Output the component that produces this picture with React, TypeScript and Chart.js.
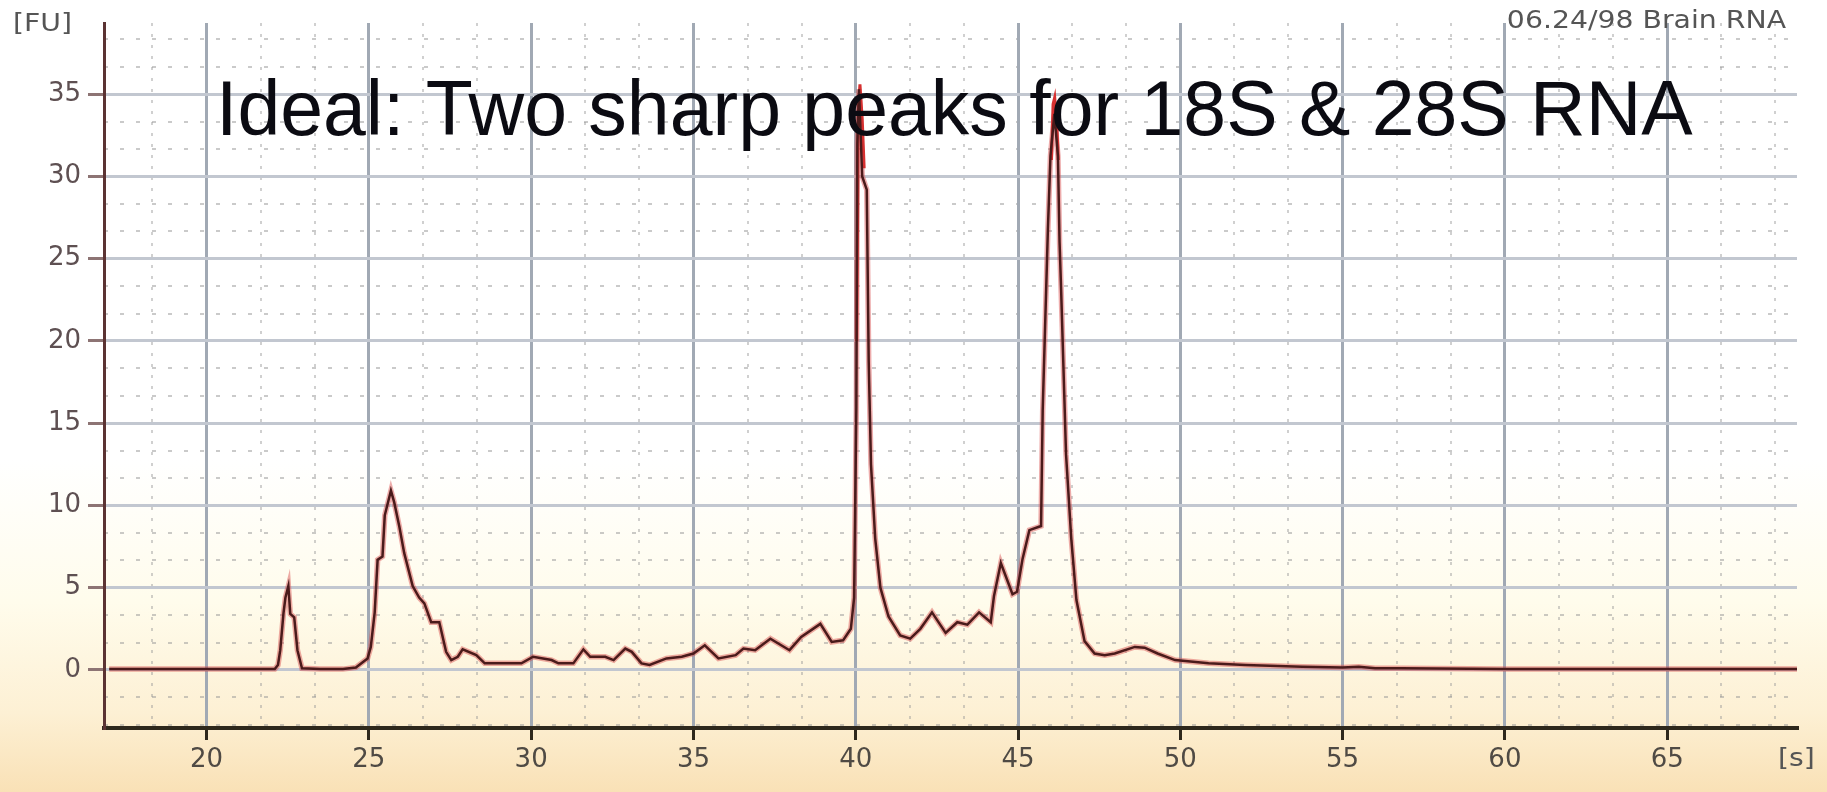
import React, { useEffect, useRef } from "react";
import { Chart, registerables } from "chart.js";

Chart.register(...registerables);

// ---- Data ----
const timeS = [
  17.0, 18.5, 20.0, 21.0, 22.1, 22.2, 22.27, 22.37, 22.43, 22.52, 22.58, 22.7, 22.8, 22.94,
  23.5, 24.2, 24.6, 24.96, 25.06, 25.18, 25.27, 25.42, 25.49, 25.68, 25.78, 25.94, 26.09,
  26.35, 26.55, 26.71, 26.92, 27.17, 27.38, 27.54, 27.74, 27.89, 28.31, 28.57, 29.7, 30.06,
  30.63, 30.84, 31.3, 31.61, 31.82, 32.28, 32.54, 32.9, 33.1, 33.4, 33.65, 34.17, 34.64,
  35.0, 35.35, 35.77, 36.3, 36.54, 36.9, 37.37, 37.96, 38.32, 38.91, 39.26, 39.61, 39.85,
  39.95, 40.02, 40.05, 40.1, 40.2, 40.34, 40.4, 40.47, 40.6, 40.76, 41.01, 41.37, 41.68,
  41.99, 42.35, 42.77, 43.13, 43.44, 43.8, 44.16, 44.26, 44.47, 44.83, 44.97, 45.14, 45.35,
  45.71, 45.76, 45.92, 46.0, 46.12, 46.23, 46.28, 46.33, 46.48, 46.64, 46.8, 47.05, 47.36,
  47.67, 47.98, 48.6, 48.9, 49.3, 49.84, 50.87, 52.0, 53.76, 55.0, 55.5, 56.0, 56.8, 60.0,
  65.0, 69.0,
];
const fluorescence = [
  0.05, 0.05, 0.05, 0.05, 0.05, 0.3, 1.2, 3.45, 4.4, 5.1, 3.4, 3.2, 1.2, 0.1,
  0.05, 0.05, 0.15, 0.7, 1.4, 3.5, 6.7, 6.9, 9.4, 10.9, 10.2, 8.7, 7.1,
  5.1, 4.4, 4.05, 2.9, 2.9, 1.1, 0.6, 0.8, 1.25, 0.9, 0.4, 0.4, 0.8,
  0.6, 0.4, 0.4, 1.25, 0.8, 0.8, 0.6, 1.3, 1.1, 0.4, 0.3, 0.7, 0.8,
  1.0, 1.5, 0.7, 0.9, 1.3, 1.2, 1.9, 1.2, 2.0, 2.8, 1.7, 1.8, 2.5,
  4.4, 16.0, 32.0, 35.3, 30.0, 29.2, 18.75, 12.5, 8.0, 5.0, 3.25, 2.1, 1.9,
  2.5, 3.5, 2.25, 2.9, 2.75, 3.5, 2.9, 4.5, 6.5, 4.6, 4.75, 6.75, 8.5,
  8.75, 15.75, 26.75, 31.25, 33.8, 31.25, 26.0, 23.0, 13.1, 8.0, 4.25, 1.75, 1.0,
  0.9, 1.0, 1.4, 1.35, 1.0, 0.6, 0.4, 0.3, 0.2, 0.15, 0.2, 0.1, 0.1, 0.05,
  0.05, 0.05,
];
// red trace visible above the dark trace at the two rRNA peaks (null = gap)
const tipTimeS = [40.03, 40.08, 40.13, 40.2, 40.26, 43.0, 46.03, 46.08, 46.13, 46.2, 46.24];
const tipFU = [20.0, 34.0, 35.6, 33.5, 30.5, null, 31.0, 34.4, 34.8, 33.0, 31.0];

const xTickValues = [20, 25, 30, 35, 40, 45, 50, 55, 60, 65];
const yTickValues = [0, 5, 10, 15, 20, 25, 30, 35];
const xRange = [16.84, 69.0];
const yRange = [-3.53, 39.33];

const titleText = "Ideal: Two sharp peaks for 18S & 28S RNA";
const sampleLabel = "06.24/98 Brain RNA";
const yUnit = "[FU]";
const xUnit = "[s]";

const minorTicks = (s: any) => {
  const step = 5 / 3;
  const out: any[] = [];
  for (let k = Math.ceil(s.min / step); k * step <= s.max; k++) {
    if (k % 3 !== 0) out.push({ value: k * step });
  }
  s.ticks = out;
};

export default function App() {
  const ref = useRef<HTMLCanvasElement>(null);

  useEffect(() => {
    document.body.style.margin = "0";
    const canvas = ref.current!;
    const points = timeS.map((t, i) => ({ x: t, y: fluorescence[i] }));
    const tips = tipTimeS.map((t, i) => ({ x: t, y: tipFU[i] }));

    const bgPlugin = {
      id: "bgGradient",
      beforeDraw(chart: any) {
        const { ctx, width, height } = chart;
        const g = ctx.createLinearGradient(0, 0, 0, height);
        g.addColorStop(0, "#ffffff");
        g.addColorStop(0.58, "#ffffff");
        g.addColorStop(0.76, "#fffcec");
        g.addColorStop(0.9, "#fdf0d4");
        g.addColorStop(1, "#f9e1b6");
        ctx.save();
        ctx.fillStyle = g;
        ctx.fillRect(0, 0, width, height);
        ctx.restore();
      },
    };

    const textPlugin = {
      id: "texts",
      afterDraw(chart: any) {
        const { ctx, chartArea: a } = chart;
        ctx.save();
        ctx.textBaseline = "alphabetic";
        ctx.fillStyle = "#0b0b12";
        ctx.font = '77px "Liberation Sans", Arial, sans-serif';
        ctx.textAlign = "left";
        ctx.fillText(titleText, a.left + 112, a.top + 112);

        ctx.fillStyle = "#555555";
        ctx.font = '24px "DejaVu Sans", sans-serif';
        const sx = 1.18;
        // sample label (top right)
        ctx.save();
        ctx.translate(a.right - 11, a.top + 5);
        ctx.scale(sx, 1);
        ctx.textAlign = "right";
        ctx.fillText(sampleLabel, 0, 0);
        ctx.restore();
        // y unit
        ctx.save();
        ctx.translate(13, a.top + 8);
        ctx.scale(sx, 1);
        ctx.textAlign = "left";
        ctx.fillText(yUnit, 0, 0);
        ctx.restore();
        // x unit
        ctx.save();
        ctx.translate(a.right - 19, a.bottom + 38);
        ctx.scale(sx, 1);
        ctx.textAlign = "left";
        ctx.fillText(xUnit, 0, 0);
        ctx.restore();
        ctx.restore();
      },
    };

    const tickFont = { family: "DejaVu Sans", size: 26 };

    const chart = new Chart(canvas, {
      type: "line",
      data: {
        datasets: [
          {
            label: "trace",
            data: points,
            borderColor: "#4a1b1b",
            borderWidth: 2.5,
            pointRadius: 0,
            tension: 0,
            xAxisID: "x",
            yAxisID: "y",
            order: 0,
          },
          {
            label: "tips",
            data: tips as any,
            borderColor: "#d63030",
            borderWidth: 3,
            pointRadius: 0,
            tension: 0,
            spanGaps: false,
            xAxisID: "x",
            yAxisID: "y",
            order: 1,
          },
          {
            label: "halo",
            data: points,
            borderColor: "rgba(215,70,70,0.45)",
            borderWidth: 5.5,
            pointRadius: 0,
            tension: 0,
            xAxisID: "x",
            yAxisID: "y",
            order: 2,
          },
        ],
      },
      options: {
        animation: false,
        responsive: false,
        events: [],
        layout: { padding: { top: 23, right: 30, left: 0, bottom: 0 } },
        plugins: { legend: { display: false }, title: { display: false }, tooltip: { enabled: false } },
        scales: {
          xMinor: {
            type: "linear",
            position: "bottom",
            min: xRange[0],
            max: xRange[1],
            z: -1,
            afterBuildTicks: minorTicks,
            afterFit: (s: any) => { s.height = 0; },
            border: { display: false, dash: [3, 8] },
            grid: { color: "rgba(150,150,150,0.45)", lineWidth: 2, drawTicks: false },
            ticks: { display: false },
          },
          yMinor: {
            type: "linear",
            position: "left",
            min: yRange[0],
            max: yRange[1],
            z: -1,
            afterBuildTicks: minorTicks,
            afterFit: (s: any) => { s.width = 0; },
            border: { display: false, dash: [4, 12] },
            grid: { color: "rgba(150,150,150,0.5)", lineWidth: 2, drawTicks: false },
            ticks: { display: false },
          },
          x: {
            type: "linear",
            position: "bottom",
            min: xRange[0],
            max: xRange[1],
            afterBuildTicks: (s: any) => { s.ticks = xTickValues.map((v) => ({ value: v })); },
            afterFit: (s: any) => { s.height = 64; },
            border: { display: true, color: "#2e281c", width: 4 },
            grid: { color: "#a1a9b4", lineWidth: 3, drawTicks: true, tickLength: 12, tickColor: "#2e281c", tickWidth: 3 },
            ticks: { font: tickFont, color: "#4f4a44", padding: 5, maxRotation: 0, autoSkip: false },
          },
          y: {
            type: "linear",
            position: "left",
            min: yRange[0],
            max: yRange[1],
            afterBuildTicks: (s: any) => { s.ticks = yTickValues.map((v) => ({ value: v })); },
            afterFit: (s: any) => { s.width = 104; },
            border: { display: true, color: "#5b3333", width: 3 },
            grid: { color: "#c2c7d0", lineWidth: 3, drawTicks: true, tickLength: 16, tickColor: "#8d7474", tickWidth: 3 },
            ticks: { font: tickFont, color: "#5e5052", padding: 7, autoSkip: false },
          },
        },
      } as any,
      plugins: [bgPlugin, textPlugin],
    });

    return () => chart.destroy();
  }, []);

  return (
    <canvas
      ref={ref}
      width={1827}
      height={792}
      style={{ display: "block", width: "1827px", height: "792px" }}
    />
  );
}
